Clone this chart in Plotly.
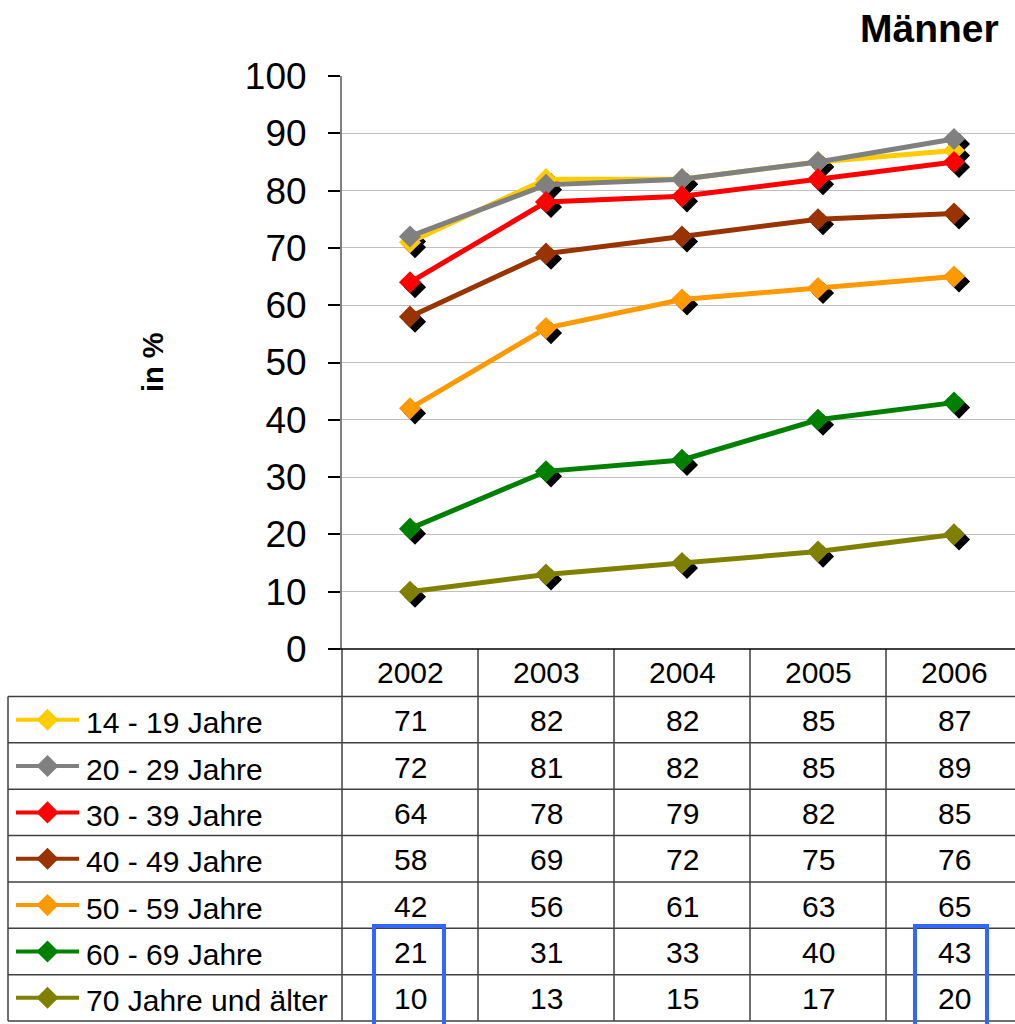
import plotly.graph_objects as go

years = [2002, 2003, 2004, 2005, 2006]
groups = ["14 - 19 Jahre", "20 - 29 Jahre", "30 - 39 Jahre", "40 - 49 Jahre",
          "50 - 59 Jahre", "60 - 69 Jahre", "70 Jahre und älter"]
values = [
    [71, 82, 82, 85, 87],
    [72, 81, 82, 85, 89],
    [64, 78, 79, 82, 85],
    [58, 69, 72, 75, 76],
    [42, 56, 61, 63, 65],
    [21, 31, 33, 40, 43],
    [10, 13, 15, 17, 20],
]
colors = ["#FFCC00", "#808080", "#FF0000", "#993300", "#FF9900", "#008000", "#808000"]
y_ticks = list(range(0, 101, 10))

W, H = 1015, 1024
FONT = "Arial, Liberation Sans, sans-serif"

# plot area in pixels
left, right, top, bottom = 342, W, 76, 649
step = 136  # px per year
x_lo = years[0] - 0.5
x_hi = x_lo + (right - left) / step
ppu = (bottom - top) / 100  # px per percent
shadow = 5
msize = 17

fig = go.Figure()

# shadows (base axes, shifted range)
for vals in values:
    fig.add_trace(go.Scatter(
        x=years, y=vals, mode="markers", xaxis="x", yaxis="y",
        marker=dict(symbol="diamond", size=msize, color="black", line=dict(width=0)),
        hoverinfo="skip", showlegend=False,
    ))

# series
for name, vals, c in zip(groups, values, colors):
    fig.add_trace(go.Scatter(
        x=years, y=vals, name=name, mode="lines+markers", xaxis="x2", yaxis="y2",
        line=dict(color=c, width=5),
        marker=dict(symbol="diamond", size=msize, color=c, line=dict(width=0)),
        showlegend=False,
    ))

# data table (pixel coordinate subplot)
header_top = bottom
row0 = 696.5
row_h = (1021 - row0) / len(groups)
col_edges = [left + step * i for i in range(len(years) + 1)]
shapes = []
annotations = []
line_col = "#404040"
tfont = dict(size=30, color="black", family=FONT)

for i, yr in enumerate(years):
    cx = left + step * (i + 0.5)
    annotations.append(dict(x=cx, y=(header_top + row0) / 2, xref="x3", yref="y3",
                            text=str(yr), showarrow=False, font=tfont))
for r, (name, vals, c) in enumerate(zip(groups, values, colors)):
    cy = row0 + row_h * (r + 0.5)
    for i, v in enumerate(vals):
        cx = left + step * (i + 0.5)
        annotations.append(dict(x=cx, y=cy + 1, xref="x3", yref="y3", text=str(v),
                                showarrow=False, font=tfont))
    annotations.append(dict(x=84, y=cy + 3, xref="x3", yref="y3", text=name,
                            xanchor="left", showarrow=False, font=tfont))
    fig.add_trace(go.Scatter(
        x=[16, 47.5, 79], y=[cy, cy, cy], mode="lines+markers", xaxis="x3", yaxis="y3",
        line=dict(color=c, width=4),
        marker=dict(symbol="diamond", size=[0, msize, 0], color=c, opacity=1,
                    line=dict(width=0)),
        hoverinfo="skip", showlegend=False,
    ))

# horizontal table lines
for r in range(len(groups) + 1):
    yy = row0 + row_h * r
    shapes.append(dict(type="line", xref="x3", yref="y3", x0=8, x1=W, y0=yy, y1=yy,
                       line=dict(color=line_col, width=1.5)))
# vertical table lines
for xe in col_edges[:-1]:
    shapes.append(dict(type="line", xref="x3", yref="y3", x0=xe, x1=xe,
                       y0=header_top, y1=row0 + row_h * len(groups),
                       line=dict(color=line_col, width=1.5)))
shapes.append(dict(type="line", xref="x3", yref="y3", x0=8, x1=8,
                   y0=row0, y1=row0 + row_h * len(groups),
                   line=dict(color=line_col, width=1.5)))
# x axis line
shapes.append(dict(type="line", xref="x3", yref="y3", x0=330, x1=W, y0=bottom, y1=bottom,
                   line=dict(color="black", width=1.5)))
# highlight boxes
for x0, x1 in [(374, 444), (915, 987)]:
    shapes.append(dict(type="rect", xref="x3", yref="y3", x0=x0, x1=x1, y0=926, y1=1040,
                       line=dict(color="#3366FF", width=4)))

annotations.append(dict(x=1001, y=28, xref="x3", yref="y3", text="<b>Männer</b>",
                        xanchor="right", showarrow=False,
                        font=dict(size=39, color="black", family=FONT)))
annotations.append(dict(x=153, y=362, xref="x3", yref="y3", text="<b>in %</b>",
                        textangle=-90, showarrow=False,
                        font=dict(size=29, color="black", family=FONT)))

dom_x = [left / W, right / W]
dom_y = [1 - bottom / H, 1 - top / H]

fig.update_layout(
    width=W, height=H,
    margin=dict(l=0, r=0, t=0, b=0, autoexpand=False),
    paper_bgcolor="white",
    plot_bgcolor="rgba(0,0,0,0)",
    showlegend=False,
    shapes=shapes,
    annotations=annotations,
    xaxis=dict(domain=dom_x, range=[x_lo - shadow / step, x_hi - shadow / step],
               visible=False, fixedrange=True, automargin=False),
    yaxis=dict(domain=dom_y, range=[shadow / ppu, 100 + shadow / ppu],
               visible=False, fixedrange=True, automargin=False),
    xaxis2=dict(overlaying="x", domain=dom_x, range=[x_lo, x_hi], showgrid=False,
                showticklabels=False, showline=False, zeroline=False, ticks="",
                automargin=False, fixedrange=True),
    yaxis2=dict(overlaying="y", domain=dom_y, range=[0, 100], tickvals=y_ticks, side="left",
                showgrid=True, gridcolor="#C0C0C0", gridwidth=1, zeroline=False,
                showline=True, linecolor="#808080", linewidth=2,
                ticks="outside", ticklen=12, tickcolor="black", tickwidth=1.5,
                ticklabelstandoff=14, automargin=False, fixedrange=True,
                tickfont=dict(size=37, color="black", family=FONT)),
    xaxis3=dict(domain=[0, 1], range=[0, W], visible=False, fixedrange=True, automargin=False),
    yaxis3=dict(domain=[0, 1], range=[H, 0], visible=False, fixedrange=True, automargin=False),
)

fig.write_html("out.html", config={"displayModeBar": False},
               post_script="document.body.style.margin='0';")
